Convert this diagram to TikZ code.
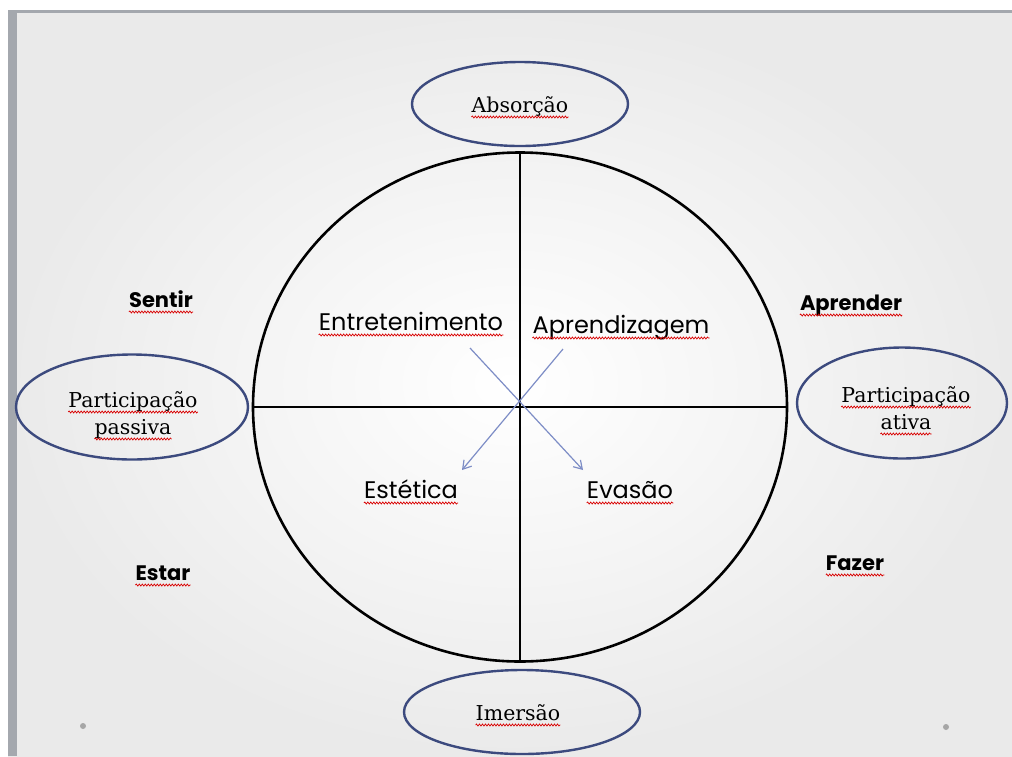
\documentclass[tikz,border=0pt]{standalone}
\usepackage{fontspec}
\setmainfont{DejaVu Serif}
\newfontfamily\gothic{Poppins}
\usetikzlibrary{shapes.geometric,decorations.pathmorphing,arrows.meta}
\definecolor{navy}{HTML}{3C4A7E}
\definecolor{arrowblue}{HTML}{7D8DC6}
\definecolor{frame}{HTML}{A4A8AE}
\definecolor{slidegrey}{HTML}{EAEAEA}
\tikzset{
  bubble/.style={draw=navy, line width=2.4pt, ellipse, inner sep=0pt},
  bubbletext/.style={font=\fontsize{20.5}{24}\selectfont, inner sep=0pt, anchor=base},
  quadtext/.style={font=\gothic\fontsize{24}{28}\selectfont, inner sep=0pt, anchor=base},
  sidetext/.style={font=\gothic\bfseries\fontsize{21}{24}\selectfont, inner sep=0pt, anchor=base},
  spell/.style={draw=red!85!black, line width=0.7pt, decorate, decoration={snake, amplitude=1pt, segment length=3pt}},
  flow/.style={draw=arrowblue, line width=1.2pt, -{Straight Barb[length=8pt,width=10pt]}},
  axis/.style={draw=black, line width=2.6pt}
}
\newcommand{\spellmark}[1]{\path[spell] ([yshift=-5pt]#1.base west) -- ([yshift=-5pt]#1.base east);}
\begin{document}
\begin{tikzpicture}[x=1pt,y=-1pt]
\useasboundingbox (0,0) rectangle (1012,756);
\fill[white] (0,0) rectangle (1012,756);
% slide background
\shade[inner color=white, outer color=slidegrey] (8,10) rectangle (1012,756);
\fill[frame] (8,10) rectangle (17,756);
\fill[frame] (8,10) rectangle (1012,13);
\fill[gray!70] (83,726) circle (3pt);
\fill[gray!70] (946,727) circle (3pt);

% wheel
\node[draw=black, line width=2.6pt, ellipse, minimum width=534pt, minimum height=509pt, inner sep=0pt] (C) at (520,407) {};
\draw[axis] (C.west) -- (C.east);
\draw[axis] (C.north) -- (C.south);

% bubbles
\node[bubble, minimum width=216pt, minimum height=84pt] (abs) at (520,104) {};
\node[bubble, minimum width=232pt, minimum height=105pt] (pas) at (132,407) {};
\node[bubble, minimum width=210pt, minimum height=111pt] (ati) at (902,403) {};
\node[bubble, minimum width=236pt, minimum height=84pt] (ime) at (522,712) {};

\node[bubbletext] (tabs) at (520,112) {Absorção};
\node[bubbletext] (tpas1) at (133,407) {Participação};
\node[bubbletext] (tpas2) at (133,434) {passiva};
\node[bubbletext] (tati1) at (906,402) {Participação};
\node[bubbletext] (tati2) at (906,429) {ativa};
\node[bubbletext] (time) at (518,720) {Imersão};

% quadrant labels
\node[quadtext] (ent) at (411,330) {Entretenimento};
\node[quadtext] (apr) at (621,333) {Aprendizagem};
\node[quadtext] (est) at (411,498) {Estética};
\node[quadtext] (eva) at (630,498) {Evasão};

% side labels
\node[sidetext] (sen) at (161,307) {Sentir};
\node[sidetext] (apd) at (851,310) {Aprender};
\node[sidetext] (esr) at (163,580) {Estar};
\node[sidetext] (faz) at (855,570) {Fazer};

\foreach \n in {tabs,tpas1,tpas2,tati1,tati2,time,ent,apr,est,eva,sen,apd,esr,faz}{\spellmark{\n}}

% arrows
\coordinate (a1s) at (470,348);
\coordinate (a1e) at (583,470);
\coordinate (a2s) at (563,349);
\coordinate (a2e) at (462,470);
\draw[flow] (a1s) -- (a1e);
\draw[flow] (a2s) -- (a2e);
\end{tikzpicture}
\end{document}
